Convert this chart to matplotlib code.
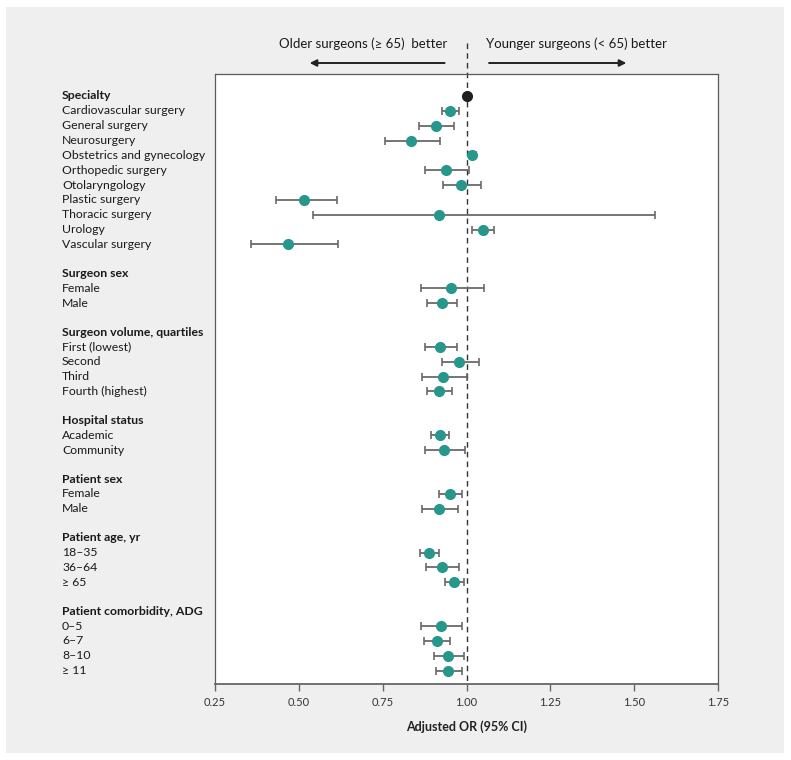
import matplotlib
matplotlib.use('Agg')
import matplotlib.pyplot as plt
from matplotlib.patches import Rectangle
from matplotlib.transforms import blended_transform_factory
import numpy as np

plt.rcParams['font.family'] = ['Lato', 'DejaVu Sans']

# data
headers = ['Specialty', 'Surgeon sex', 'Surgeon volume, quartiles', 'Hospital status',
           'Patient sex', 'Patient age, yr', 'Patient comorbidity, ADG']
group_sizes = [10, 2, 4, 2, 2, 3, 4]
labels = ['Cardiovascular surgery', 'General surgery', 'Neurosurgery', 'Obstetrics and gynecology',
          'Orthopedic surgery', 'Otolaryngology', 'Plastic surgery', 'Thoracic surgery', 'Urology',
          'Vascular surgery',
          'Female', 'Male',
          'First (lowest)', 'Second', 'Third', 'Fourth (highest)',
          'Academic', 'Community',
          'Female', 'Male',
          '18–35', '36–64', '≥ 65',
          '0–5', '6–7', '8–10', '≥ 11']
odds = np.array([0.951, 0.909, 0.834, 1.017, 0.938, 0.985, 0.514, 0.919, 1.049, 0.469,
                 0.953, 0.927,
                 0.922, 0.978, 0.930, 0.918,
                 0.922, 0.932,
                 0.951, 0.919,
                 0.888, 0.927, 0.964,
                 0.925, 0.911, 0.946, 0.945])
ci_low = np.array([0.927, 0.857, 0.757, 1.007, 0.875, 0.931, 0.431, 0.541, 1.017, 0.358,
                   0.865, 0.882,
                   0.876, 0.926, 0.866, 0.881,
                   0.895, 0.876,
                   0.918, 0.866,
                   0.861, 0.878, 0.937,
                   0.865, 0.874, 0.903, 0.910])
ci_high = np.array([0.977, 0.963, 0.921, 1.027, 1.007, 1.043, 0.614, 1.563, 1.082, 0.617,
                    1.051, 0.971,
                    0.971, 1.036, 1.001, 0.957,
                    0.949, 0.996,
                    0.986, 0.974,
                    0.918, 0.979, 0.993,
                    0.986, 0.951, 0.992, 0.986])
reference_or = 1.0
xticks = [0.25, 0.50, 0.75, 1.00, 1.25, 1.50, 1.75]

# row positions
gap = 0.95
header_y = []
item_y = []
row = 0.0
for i, n in enumerate(group_sizes):
    if i > 0:
        row += gap
    header_y.append(row)
    row += 1
    for _ in range(n):
        item_y.append(row)
        row += 1
item_y = np.array(item_y)

fig = plt.figure(figsize=(7.91, 7.60), dpi=100)
fig.patches.append(Rectangle((6/791, 7/760), 778/791, 746/760, transform=fig.transFigure,
                             facecolor='#eeefee', edgecolor='none', zorder=-10))
ax = fig.add_axes([215/791, 1 - 684/760, 503/791, 610/760])
ax.set_facecolor('white')

teal = '#27978b'
ax.errorbar(odds, item_y, xerr=[odds - ci_low, ci_high - odds], fmt='none',
            ecolor='#6a6a6a', elinewidth=1.3, capsize=3, capthick=1.2, zorder=2)
ax.plot(odds, item_y, 'o', color=teal, markersize=7, zorder=3)
ax.plot([reference_or], [header_y[0]], 'o', color='#231f20', markersize=7, zorder=3)

ytop = -1.48
ybot = ytop + 610 / 14.85
ax.set_ylim(ybot, ytop)
ax.set_xlim(0.25, 1.75)
ax.vlines(1.0, ytop - 2.1, ybot, colors='#333333', linestyles=(0, (4, 3)),
          linewidth=1, clip_on=False, zorder=1)

ax.set_yticks([])
ax.set_xticks(xticks)
ax.set_xticklabels(['%.2f' % t for t in xticks], fontsize=8, color='#333333')
ax.tick_params(axis='x', direction='out', length=5, width=1, color='#666666', pad=4)
for side in ['left', 'top', 'right']:
    ax.spines[side].set_color('#5a5a5a')
    ax.spines[side].set_linewidth(0.9)
ax.spines['bottom'].set_color('#666666')
ax.spines['bottom'].set_linewidth(1.3)

ax.set_xlabel('Adjusted OR (95% CI)', fontsize=9, fontweight='bold', color='#222222', labelpad=9)

tr = blended_transform_factory(fig.transFigure, ax.transData)
for h, y in zip(headers, header_y):
    ax.text(62/791, y, h, transform=tr, fontsize=8.8, fontweight='bold', color='#1a1a1a',
            va='center', ha='left', clip_on=False)
for lab, y in zip(labels, item_y):
    ax.text(62/791, y, lab, transform=tr, fontsize=8.8, color='#1a1a1a',
            va='center', ha='left', clip_on=False)

# direction arrows
arrow_y = ytop - 11 / 14.85
text_y = ytop - 30 / 14.85
ax.annotate('', xy=(0.524, arrow_y), xytext=(0.943, arrow_y), annotation_clip=False,
            arrowprops=dict(arrowstyle='-|>', color='#222222', lw=1.4, mutation_scale=10))
ax.annotate('', xy=(1.485, arrow_y), xytext=(1.059, arrow_y), annotation_clip=False,
            arrowprops=dict(arrowstyle='-|>', color='#222222', lw=1.4, mutation_scale=10))
ax.text(0.943, text_y, 'Older surgeons (≥ 65)  better', ha='right', va='center',
        fontsize=9.5, color='#1a1a1a', clip_on=False)
ax.text(1.059, text_y, 'Younger surgeons (< 65) better', ha='left', va='center',
        fontsize=9.5, color='#1a1a1a', clip_on=False)

fig.savefig('out.png', dpi=100)
